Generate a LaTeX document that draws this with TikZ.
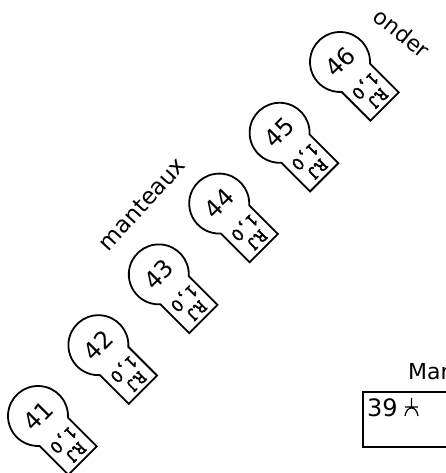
\documentclass[tikz,border=0pt]{standalone}
\usepackage{fontspec}
\setmainfont{DejaVu Sans}
\newfontfamily\tabfont{Latin Modern Mono}[FakeBold=2.5]
\tikzset{
  keyline/.style={line width=1.8pt, line join=miter},
  numtext/.style={font=\fontsize{24}{24}\selectfont, inner sep=0pt, rotate=45},
  tabtext/.style={font=\tabfont\fontsize{19.5}{19.5}\selectfont, inner sep=0pt, rotate=225},
  lbltext/.style={inner sep=0pt},
  boxline/.style={line width=1.8pt},
}
\begin{document}
\begin{tikzpicture}[x=1pt,y=1pt]
\useasboundingbox (0,0) rectangle (446,473);
\clip (0,0) rectangle (446,473);
\foreach \n [count=\i from 0] in {41,42,43,44,45,46}{
  \begin{scope}[shift={(38+60.4*\i,57+70.8*\i)}, rotate=45]
    \draw[keyline] (-48.19:30pt) arc[start angle=-48.19,end angle=228.19,radius=30pt]
      -- (-20pt,-63pt) -- (20pt,-63pt) -- cycle;
    \node[numtext] (num\n) at (0pt,0pt) {\n};
    \node[tabtext] (ten\n) at (1pt,-34pt) {1,0};
    \node[tabtext] (rj\n) at (1pt,-52.5pt) {RJ};
  \end{scope}
}
\node[lbltext, font=\fontsize{23}{23}\selectfont, rotate=47.8] (manteaux) at (142,269) {manteaux};
\node[lbltext, font=\fontsize{22}{22}\selectfont, rotate=-38.8] (onder) at (402,440) {onder};
\node[lbltext, font=\fontsize{22}{22}\selectfont, anchor=base west] (mar) at (408,93) {Mar};
\draw[boxline] (363,26) rectangle (470,81);
\node[lbltext, font=\fontsize{24}{24}\selectfont, anchor=base west] (n39) at (367,56) {39};
\draw[line width=1.2pt] (411.5,75) -- (411.5,65)
  (405,66) -- (418,66)
  (405,57) .. controls (406,63) and (409,65) .. (411.5,65) .. controls (414,65) and (417,63) .. (418,57);
\end{tikzpicture}
\end{document}
